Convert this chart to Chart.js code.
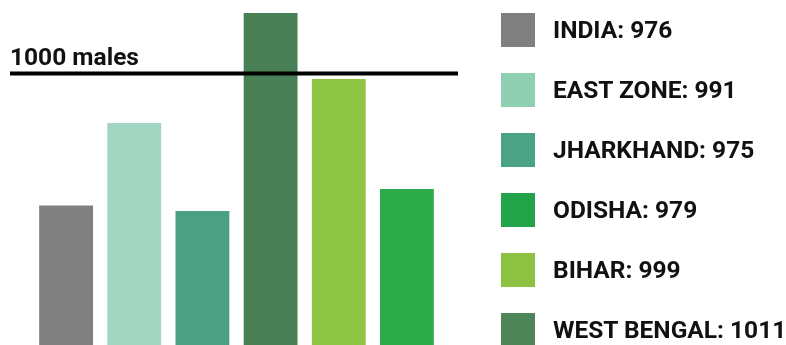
<!DOCTYPE html>
<html>
<head>
<meta charset="utf-8">
<script src="https://cdn.jsdelivr.net/npm/chart.js@4/dist/chart.umd.min.js"></script>
<style>
  html, body { margin: 0; padding: 0; background: #fff; }
  #wrap { position: relative; width: 786px; height: 345px; overflow: hidden; }
  #c { position: absolute; left: 0; top: 0; }
  #legend { position: absolute; left: 500px; top: 13px; margin: 0; padding: 0; list-style: none;
            font-family: Roboto, "Noto Sans", sans-serif; font-weight: 700; font-size: 24.5px; color: #111; }
  #legend li { position: relative; height: 60px; }
  #legend .sw { position: absolute; left: 1px; top: 0; width: 34px; height: 34px; }
  #legend .tx { position: absolute; left: 53px; top: 17px; transform: translateY(-50%); white-space: nowrap; line-height: 1; }
</style>
</head>
<body>
<div id="wrap">
  <canvas id="c" width="786" height="345"></canvas>
  <ul id="legend"></ul>
</div>
<script>
// Bar chart data (order as drawn)
const categories = ["INDIA", "EAST ZONE", "JHARKHAND", "WEST BENGAL", "BIHAR", "ODISHA"];
const sexRatio = [976, 991, 975, 1011, 999, 979];
const barColors = ["#808080", "#a3d5c3", "#4b9f83", "#487f55", "#8dc542", "#2eac4c"];

// Legend (order as listed)
const legendNames = ["INDIA", "EAST ZONE", "JHARKHAND", "ODISHA", "BIHAR", "WEST BENGAL"];
const legendValues = [976, 991, 975, 979, 999, 1011];
const legendColors = ["#808080", "#8fd0b3", "#4aa384", "#22a34a", "#8cc142", "#4e8558"];

// Reference line
const refValue = 1000;
const refLabel = "1000 males";

const legendEl = document.getElementById('legend');
legendNames.forEach((n, i) => {
  const li = document.createElement('li');
  const sw = document.createElement('span'); sw.className = 'sw'; sw.style.background = legendColors[i];
  const tx = document.createElement('span'); tx.className = 'tx'; tx.textContent = n + ': ' + legendValues[i];
  li.appendChild(sw); li.appendChild(tx); legendEl.appendChild(li);
});

const refLinePlugin = {
  id: 'refLine',
  afterDatasetsDraw(chart) {
    const ctx = chart.ctx;
    const y = chart.scales.y.getPixelForValue(refValue);
    ctx.save();
    ctx.strokeStyle = '#000';
    ctx.lineWidth = 4;
    ctx.beginPath();
    ctx.moveTo(10, y);
    ctx.lineTo(458, y);
    ctx.stroke();
    ctx.fillStyle = '#111';
    ctx.font = 'bold 24.5px Roboto';
    ctx.textBaseline = 'alphabetic';
    ctx.textAlign = 'left';
    ctx.fillText(refLabel, 10, y - 8);
    ctx.restore();
  }
};

new Chart(document.getElementById('c'), {
  type: 'bar',
  data: {
    labels: categories,
    datasets: [{
      data: sexRatio,
      backgroundColor: barColors,
      borderWidth: 0,
      categoryPercentage: 1,
      barPercentage: 0.79
    }]
  },
  options: {
    responsive: false,
    animation: false,
    layout: { padding: { left: 32, right: 345, top: 0, bottom: 0 } },
    plugins: { legend: { display: false }, tooltip: { enabled: false } },
    scales: {
      x: { display: false, offset: true },
      y: { display: false, min: 950.64, max: 1013.36 }
    }
  },
  plugins: [refLinePlugin]
});
</script>
</body>
</html>
